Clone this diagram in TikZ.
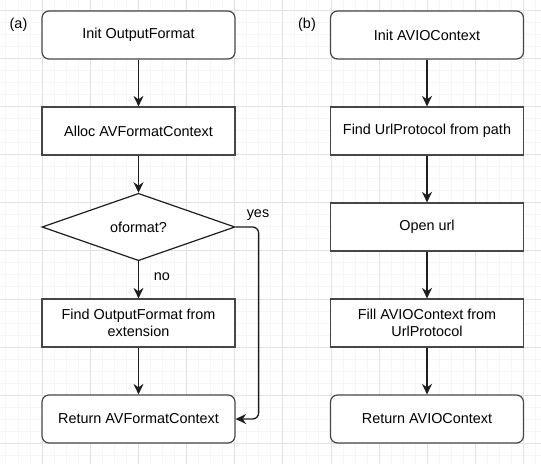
\documentclass[tikz,border=0pt]{standalone}
\usepackage{fontspec}
\setmainfont{Liberation Sans}
\usetikzlibrary{shapes.geometric, arrows.meta, positioning}
\definecolor{gridmajor}{RGB}{226,226,226}
\definecolor{gridminor}{RGB}{246,246,246}
\definecolor{boxline}{RGB}{70,70,70}
\definecolor{flowline}{RGB}{30,30,30}

\begin{document}
\begin{tikzpicture}[
    x=1pt, y=-1pt,
    >={Stealth[length=10.5pt, width=10pt]},
    every node/.style={font=\fontsize{14.4}{17}\selectfont},
    procbox/.style={rectangle, draw=boxline, line width=1.2pt, fill=white,
        minimum width=193pt, minimum height=48pt, align=center, inner sep=2pt},
    termbox/.style={procbox, rounded corners=7pt},
    decision/.style={diamond, draw=flowline, line width=1.2pt, fill=white,
        minimum width=193pt, minimum height=48pt, inner sep=0pt},
    flow/.style={->, draw=flowline, line width=1.3pt},
    edgelabel/.style={inner sep=1pt},
]

% === BACKGROUND GRID ===
\useasboundingbox (0,0) rectangle (541,464);
\fill[white] (0,0) rectangle (541,464);
\begin{scope}
\clip (0,0) rectangle (541,464);
\foreach \k in {-4,...,44}
    \draw[gridminor, line width=0.8pt] ({42+12.0375*\k},0) -- ++(0,464);
\foreach \k in {-1,...,38}
    \draw[gridminor, line width=0.8pt] (0,{10+12.0375*\k}) -- ++(541,0);
\foreach \k in {-1,...,11}
    \draw[gridmajor, line width=0.8pt] ({42+48.15*\k},0) -- ++(0,464);
\foreach \k in {0,...,9}
    \draw[gridmajor, line width=0.8pt] (0,{10+48.15*\k}) -- ++(541,0);
\end{scope}

% === (a) OUTPUT FORMAT (Left side) ===
\node (lbla) at (18.5,25) {(a)};

\node[termbox] (initfmt) at (138.5,35) {Init OutputFormat};
\node[procbox] (allocctx) at (138.5,131) {Alloc AVFormatContext};
\node[decision] (ofmtdec) at (138.5,227) {oformat?};
\node[procbox] (findfmt) at (138.5,323) {Find OutputFormat from\\extension};
\node[termbox] (retfmt) at (138.5,419) {Return AVFormatContext};

\draw[flow] (initfmt) -- (allocctx);
\draw[flow] (allocctx) -- (ofmtdec);
\draw[flow] (ofmtdec) -- (findfmt);
\draw[flow] (findfmt) -- (retfmt);
\draw[flow, rounded corners=6pt] (ofmtdec.east) -- ++(23,0) |- (retfmt.east);

\node[edgelabel] (nolbl) at (162,277) {no};
\node[edgelabel] (yeslbl) at (258,215) {yes};

% === (b) AVIO CONTEXT (Right side) ===
\node (lblb) at (307,25) {(b)};

\node[termbox] (initio) at (427,35) {Init AVIOContext};
\node[procbox] (findproto) at (427,131) {Find UrlProtocol from path};
\node[procbox] (openurl) at (427,227) {Open url};
\node[procbox] (fillio) at (427,323) {Fill AVIOContext from\\UrlProtocol};
\node[termbox] (retio) at (427,419) {Return AVIOContext};

\draw[flow] (initio) -- (findproto);
\draw[flow] (findproto) -- (openurl);
\draw[flow] (openurl) -- (fillio);
\draw[flow] (fillio) -- (retio);

\end{tikzpicture}
\end{document}
